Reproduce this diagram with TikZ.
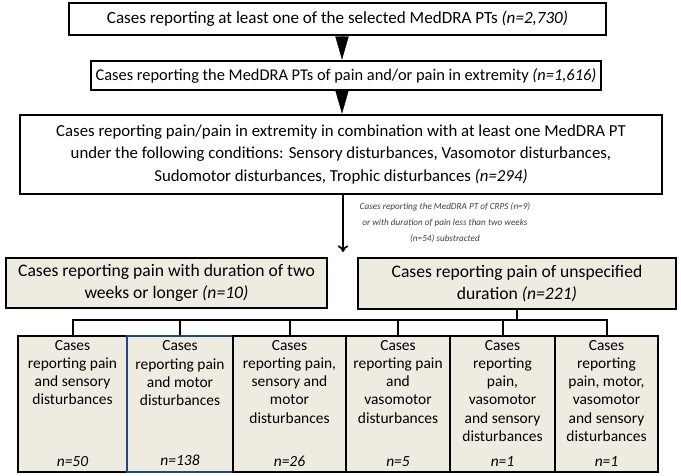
\documentclass[tikz,border=0pt]{standalone}
\usepackage{fontspec}
\setmainfont{Carlito}
\usetikzlibrary{arrows.meta}
\definecolor{boxbeige}{HTML}{EEECE1}
\definecolor{boxblue}{HTML}{1F497D}
\definecolor{notegray}{HTML}{404040}
\tikzset{
  every node/.style={font=\fontsize{12.8}{16}\selectfont},
  wd/.style={minimum width=(#1)*0.75pt},
  ht/.style={minimum height=(#1)*0.75pt},
  flowbox/.style={draw, line width=2pt, fill=white, align=center, inner sep=0pt},
  splitbox/.style={draw, line width=1.6pt, fill=boxbeige, align=center, inner sep=0pt,
    font=\fontsize{13.2}{16}\selectfont},
  leafbox/.style={draw, fill=boxbeige, inner sep=0pt, ht=136},
  leafdark/.style={draw=black, line width=1.6pt},
  leafblue/.style={draw=boxblue, line width=1.1pt},
  leaftext/.style={align=center, anchor=north, inner sep=0pt, font=\fontsize{11.6}{13.6}\selectfont},
  countlbl/.style={anchor=south, inner sep=0pt, font=\fontsize{11.6}{13}\selectfont\itshape},
  notetext/.style={align=center, inner sep=0pt, text=notegray, font=\fontsize{6.9}{11.8}\selectfont\itshape},
  wedge/.style={line width=0.3pt, -{Triangle[length=17.5pt, width=10pt]}},
  tree/.style={line width=1.5pt},
}
\begin{document}
\begin{tikzpicture}[x=0.75pt, y=-0.75pt]
\useasboundingbox (0,0) rectangle (681,475);

% top of the flow
\node[flowbox, wd=537, ht=32] (all) at (337.5,19)
  {Cases reporting at least one of the selected MedDRA PTs \textit{(n=2,730)}};
\node[flowbox, wd=510, ht=29, font=\fontsize{12.3}{16}\selectfont] (pain) at (346,75.5)
  {Cases reporting the MedDRA PTs of pain and/or pain in extremity \textit{(n=1,616)}};
\node[flowbox, wd=642, ht=79, font=\fontsize{12.6}{16.8}\selectfont] (combo) at (341,154.5)
  {Cases reporting pain/pain in extremity in combination with at least one MedDRA PT\\
   under the following conditions: Sensory disturbances, Vasomotor disturbances,\\
   Sudomotor disturbances, Trophic disturbances \textit{(n=294)}};

\draw[wedge] (all.south -| 342,0) -- (pain.north -| 342,0);
\draw[wedge] (pain.south -| 342,0) -- (combo.north -| 342,0);

% split by duration
\coordinate (split) at (343,252);
\draw[line width=1.3pt, -{To[length=5pt, width=8pt]}] (combo.south -| split) -- (split);
\node[notetext] (note) at (445,223)
  {Cases reporting the MedDRA PT of CRPS (n=9)\\
   or with duration of pain less than two weeks\\
   (n=54) substracted};

\node[splitbox, wd=321, ht=50] (twoweeks) at (166.5,283)
  {Cases reporting pain with duration of two\\weeks or longer \textit{(n=10)}};
\node[splitbox, wd=318, ht=51] (unspec) at (517,283.5)
  {Cases reporting pain of unspecified\\duration \textit{(n=221)}};

% leaves
\foreach \i/\l/\r/\s/\t/\n in {
  1/18/127/leafdark/{Cases\\reporting pain\\and sensory\\disturbances}/50,
  2/127/233/leafblue/{Cases\\reporting pain\\and motor\\disturbances}/138,
  3/233/346/leafdark/{Cases\\reporting pain,\\sensory and\\motor\\disturbances}/26,
  4/346/450/leafdark/{Cases\\reporting pain\\and\\vasomotor\\disturbances}/5,
  5/450/555/leafdark/{Cases\\reporting\\pain,\\vasomotor\\and sensory\\disturbances}/1,
  6/555/658/leafdark/{Cases\\reporting\\pain, motor,\\vasomotor\\and sensory\\disturbances}/1}{
  \node[leafbox, \s, wd={\r-\l}] (leaf\i) at ({(\l+\r)/2},404) {};
  \node[leaftext] (leaftext\i) at ([yshift=-4pt]leaf\i.north) {\t};
  \node[countlbl] (count\i) at ([yshift=5pt]leaf\i.south) {n=\n};
}

\coordinate (hub) at (517,320);
\draw[tree] (unspec.south) -- (hub);
\draw[tree] (leaf1.north) -- (leaf1.north |- hub) -- (leaf6.north |- hub) -- (leaf6.north);
\foreach \i in {2,...,5}
  \draw[tree] (leaf\i.north) -- (leaf\i.north |- hub);
\end{tikzpicture}
\end{document}
